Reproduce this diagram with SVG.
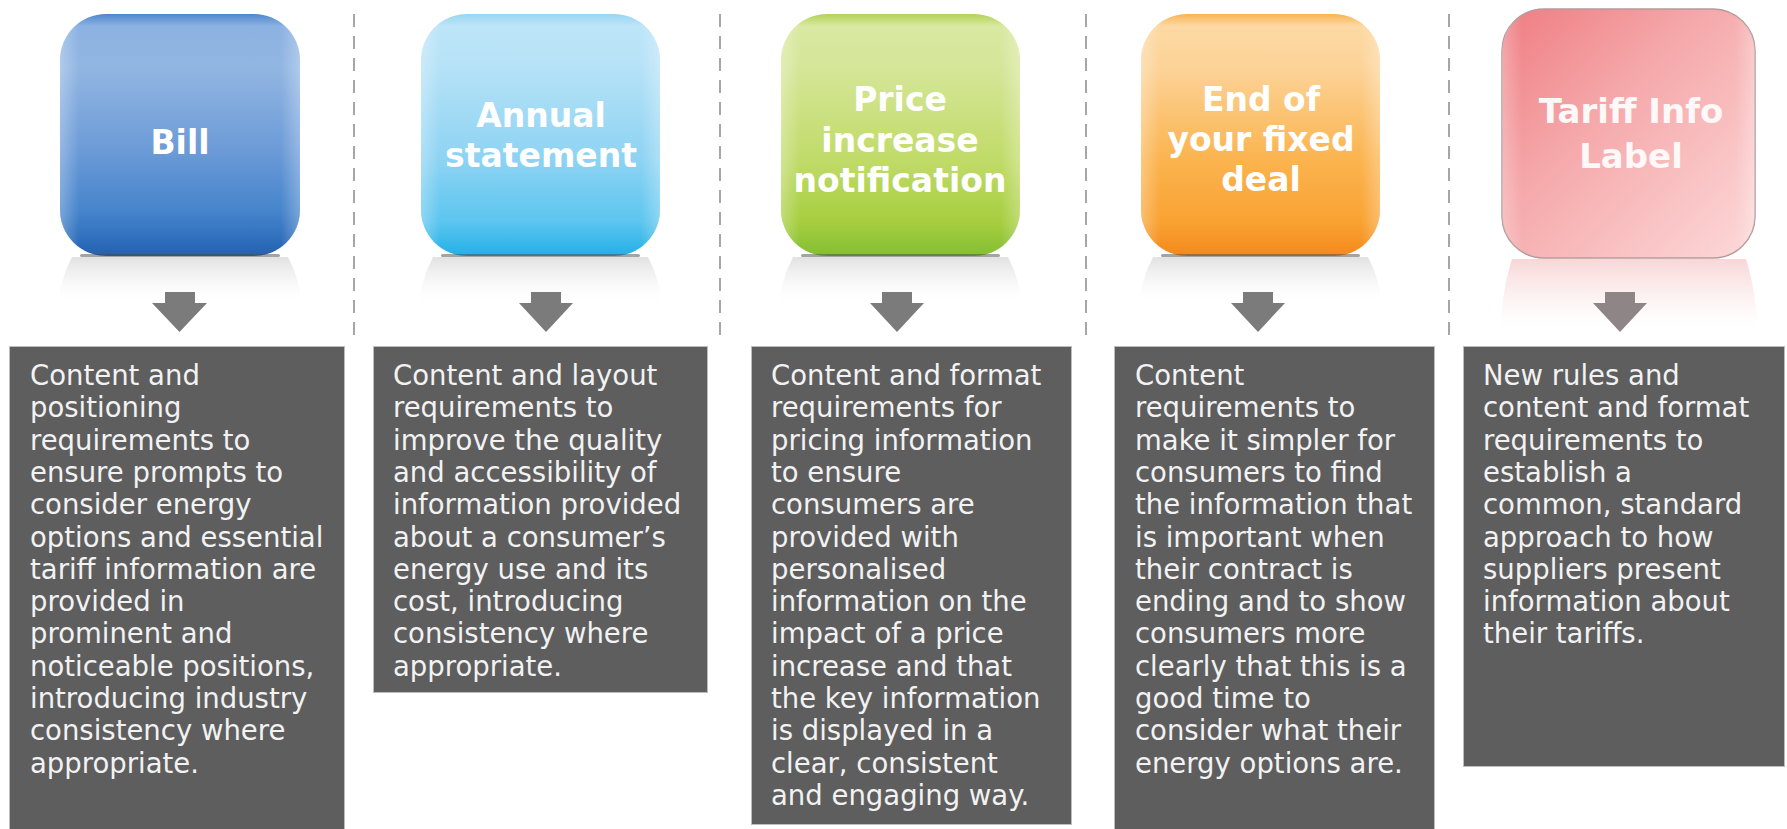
<svg xmlns="http://www.w3.org/2000/svg" width="1787" height="829" viewBox="0 0 1787 829">
<style>
.title{font-family:"DejaVu Sans","Liberation Sans",sans-serif;font-weight:700;font-size:33px;fill:#ffffff;text-anchor:middle}
.title5{font-family:"DejaVu Sans","Liberation Sans",sans-serif;font-weight:700;font-size:34px;fill:#fff8f8;text-anchor:middle}
.body{font-family:"DejaVu Sans","Liberation Sans",sans-serif;font-size:27.5px;fill:#f2f2f2}
.panel{fill:#5e5e5e;stroke:#bdbdbd;stroke-width:1}
.divider{stroke:#a6a6a6;stroke-width:2;stroke-dasharray:13 9;fill:none}
.arrow{fill:#7b7b7b}
.shade{fill:url(#sideGloss)}
.refl{fill:url(#reflGray)}
.shadowline{fill:#4a4a4a;opacity:0.5}
</style>
<defs>
<linearGradient id="gBlue" x1="0" y1="0" x2="0" y2="1">
<stop offset="0" stop-color="#4f86cf"/><stop offset="0.05" stop-color="#8cb2e2"/><stop offset="0.22" stop-color="#92b6e2"/><stop offset="0.55" stop-color="#6e9cd8"/><stop offset="0.82" stop-color="#4584cb"/><stop offset="0.96" stop-color="#2a69b8"/><stop offset="1" stop-color="#2a5ea6"/>
</linearGradient>
<linearGradient id="gCyan" x1="0" y1="0" x2="0" y2="1">
<stop offset="0" stop-color="#98d5f2"/><stop offset="0.05" stop-color="#bde5f8"/><stop offset="0.22" stop-color="#b6e2f7"/><stop offset="0.6" stop-color="#8dd3f3"/><stop offset="0.86" stop-color="#5cc5ef"/><stop offset="1" stop-color="#22b0e6"/>
</linearGradient>
<linearGradient id="gGreen" x1="0" y1="0" x2="0" y2="1">
<stop offset="0" stop-color="#b3d255"/><stop offset="0.05" stop-color="#d9e9a2"/><stop offset="0.22" stop-color="#d5e699"/><stop offset="0.6" stop-color="#c1db69"/><stop offset="0.86" stop-color="#a6ce3f"/><stop offset="1" stop-color="#84be34"/>
</linearGradient>
<linearGradient id="gOrange" x1="0" y1="0" x2="0" y2="1">
<stop offset="0" stop-color="#f7b452"/><stop offset="0.05" stop-color="#fdd9a3"/><stop offset="0.22" stop-color="#fcd398"/><stop offset="0.6" stop-color="#fbb44f"/><stop offset="0.86" stop-color="#f9a232"/><stop offset="1" stop-color="#f4891c"/>
</linearGradient>
<linearGradient id="gPink" x1="0" y1="0" x2="1" y2="1">
<stop offset="0" stop-color="#ef7c82"/><stop offset="0.4" stop-color="#f5a8aa"/><stop offset="1" stop-color="#fdd9d9"/>
</linearGradient>
<linearGradient id="sideGloss" x1="0" y1="0" x2="1" y2="0">
<stop offset="0" stop-color="#ffffff" stop-opacity="0.28"/><stop offset="0.08" stop-color="#ffffff" stop-opacity="0"/><stop offset="0.92" stop-color="#ffffff" stop-opacity="0"/><stop offset="1" stop-color="#ffffff" stop-opacity="0.28"/>
</linearGradient>
<linearGradient id="reflGray" x1="0" y1="0" x2="0" y2="1">
<stop offset="0" stop-color="#dcdcdc" stop-opacity="0.85"/><stop offset="0.5" stop-color="#eeeeee" stop-opacity="0.5"/><stop offset="1" stop-color="#ffffff" stop-opacity="0"/>
</linearGradient>
<linearGradient id="reflPink" x1="0" y1="0" x2="0" y2="1">
<stop offset="0" stop-color="#f6cccd" stop-opacity="0.8"/><stop offset="0.6" stop-color="#fcecec" stop-opacity="0.5"/><stop offset="1" stop-color="#ffffff" stop-opacity="0"/>
</linearGradient>
</defs>
<rect width="1787" height="829" fill="#ffffff"/>

<g id="dividers">
<line class="divider" x1="354" y1="14" x2="354" y2="343"/>
<line class="divider" x1="720" y1="14" x2="720" y2="343"/>
<line class="divider" x1="1086" y1="14" x2="1086" y2="343"/>
<line class="divider" x1="1449" y1="14" x2="1449" y2="343"/>
</g>

<g id="node-bill">
<path class="refl" d="M72 257 H288 Q300 280 302 305 H58 Q60 280 72 257 Z"/>
<rect x="60" y="14" width="240" height="242" rx="46" fill="url(#gBlue)"/>
<rect class="shade" x="60" y="14" width="240" height="242" rx="46"/>
<rect class="shadowline" x="80" y="254" width="200" height="3" rx="1.5"/>
<text class="title" x="180" y="154">Bill</text>
</g>

<g id="node-annual">
<path class="refl" d="M433 257 H648 Q660 280 662 305 H419 Q421 280 433 257 Z"/>
<rect x="421" y="14" width="239" height="242" rx="46" fill="url(#gCyan)"/>
<rect class="shade" x="421" y="14" width="239" height="242" rx="46"/>
<rect class="shadowline" x="441" y="254" width="199" height="3" rx="1.5"/>
<text class="title" x="541" y="127">Annual</text>
<text class="title" x="541" y="167">statement</text>
</g>

<g id="node-price">
<path class="refl" d="M793 257 H1008 Q1020 280 1022 305 H779 Q781 280 793 257 Z"/>
<rect x="781" y="14" width="239" height="242" rx="46" fill="url(#gGreen)"/>
<rect class="shade" x="781" y="14" width="239" height="242" rx="46"/>
<rect class="shadowline" x="801" y="254" width="199" height="3" rx="1.5"/>
<text class="title" x="900" y="111">Price</text>
<text class="title" x="900" y="152">increase</text>
<text class="title" x="900" y="192">notification</text>
</g>

<g id="node-end">
<path class="refl" d="M1153 257 H1368 Q1380 280 1382 305 H1139 Q1141 280 1153 257 Z"/>
<rect x="1141" y="14" width="239" height="242" rx="46" fill="url(#gOrange)"/>
<rect class="shade" x="1141" y="14" width="239" height="242" rx="46"/>
<rect class="shadowline" x="1161" y="254" width="199" height="3" rx="1.5"/>
<text class="title" x="1261" y="111">End of</text>
<text class="title" x="1261" y="151">your fixed</text>
<text class="title" x="1261" y="191">deal</text>
</g>

<g id="node-tariff">
<path d="M1512 259 H1746 Q1756 290 1758 335 H1500 Q1502 290 1512 259 Z" fill="url(#reflPink)"/>
<rect x="1502" y="9" width="253" height="249" rx="42" fill="url(#gPink)" stroke="#b59a9a" stroke-width="1.5"/>
<rect class="shade" x="1502" y="9" width="253" height="249" rx="42"/>
<text class="title5" x="1631" y="123">Tariff Info</text>
<text class="title5" x="1631" y="168">Label</text>
</g>

<g id="connectors">
<path class="arrow" d="M165 292 H195 V303 H207 L179.5 332 L152 303 H165 Z"/>
<path class="arrow" d="M531 292 H561 V303 H573 L546 332 L519 303 H531 Z"/>
<path class="arrow" d="M882 292 H912 V303 H924 L897 332 L870 303 H882 Z"/>
<path class="arrow" d="M1243 292 H1273 V303 H1285 L1258 332 L1231 303 H1243 Z"/>
<path d="M1605 292 H1635 V303 H1647 L1620 332 L1593 303 H1605 Z" fill="#8e8686"/>
</g>

<g id="panel-bill">
<rect class="panel" x="9.5" y="346.5" width="335" height="490"/>
<text class="body" x="30" y="385">
<tspan x="30" dy="0">Content and</tspan>
<tspan x="30" dy="32.3">positioning</tspan>
<tspan x="30" dy="32.3">requirements to</tspan>
<tspan x="30" dy="32.3">ensure prompts to</tspan>
<tspan x="30" dy="32.3">consider energy</tspan>
<tspan x="30" dy="32.3">options and essential</tspan>
<tspan x="30" dy="32.3">tariff information are</tspan>
<tspan x="30" dy="32.3">provided in</tspan>
<tspan x="30" dy="32.3">prominent and</tspan>
<tspan x="30" dy="32.3">noticeable positions,</tspan>
<tspan x="30" dy="32.3">introducing industry</tspan>
<tspan x="30" dy="32.3">consistency where</tspan>
<tspan x="30" dy="32.3">appropriate.</tspan>
</text>
</g>

<g id="panel-annual">
<rect class="panel" x="373.5" y="346.5" width="334" height="346"/>
<text class="body" x="393" y="385">
<tspan x="393" dy="0">Content and layout</tspan>
<tspan x="393" dy="32.3">requirements to</tspan>
<tspan x="393" dy="32.3">improve the quality</tspan>
<tspan x="393" dy="32.3">and accessibility of</tspan>
<tspan x="393" dy="32.3">information provided</tspan>
<tspan x="393" dy="32.3">about a consumer’s</tspan>
<tspan x="393" dy="32.3">energy use and its</tspan>
<tspan x="393" dy="32.3">cost, introducing</tspan>
<tspan x="393" dy="32.3">consistency where</tspan>
<tspan x="393" dy="32.3">appropriate.</tspan>
</text>
</g>

<g id="panel-price">
<rect class="panel" x="751.5" y="346.5" width="320" height="478"/>
<text class="body" x="771" y="385">
<tspan x="771" dy="0">Content and format</tspan>
<tspan x="771" dy="32.3">requirements for</tspan>
<tspan x="771" dy="32.3">pricing information</tspan>
<tspan x="771" dy="32.3">to ensure</tspan>
<tspan x="771" dy="32.3">consumers are</tspan>
<tspan x="771" dy="32.3">provided with</tspan>
<tspan x="771" dy="32.3">personalised</tspan>
<tspan x="771" dy="32.3">information on the</tspan>
<tspan x="771" dy="32.3">impact of a price</tspan>
<tspan x="771" dy="32.3">increase and that</tspan>
<tspan x="771" dy="32.3">the key information</tspan>
<tspan x="771" dy="32.3">is displayed in a</tspan>
<tspan x="771" dy="32.3">clear, consistent</tspan>
<tspan x="771" dy="32.3">and engaging way.</tspan>
</text>
</g>

<g id="panel-end">
<rect class="panel" x="1114.5" y="346.5" width="320" height="490"/>
<text class="body" x="1135" y="385">
<tspan x="1135" dy="0">Content</tspan>
<tspan x="1135" dy="32.3">requirements to</tspan>
<tspan x="1135" dy="32.3">make it simpler for</tspan>
<tspan x="1135" dy="32.3">consumers to find</tspan>
<tspan x="1135" dy="32.3">the information that</tspan>
<tspan x="1135" dy="32.3">is important when</tspan>
<tspan x="1135" dy="32.3">their contract is</tspan>
<tspan x="1135" dy="32.3">ending and to show</tspan>
<tspan x="1135" dy="32.3">consumers more</tspan>
<tspan x="1135" dy="32.3">clearly that this is a</tspan>
<tspan x="1135" dy="32.3">good time to</tspan>
<tspan x="1135" dy="32.3">consider what their</tspan>
<tspan x="1135" dy="32.3">energy options are.</tspan>
</text>
</g>

<g id="panel-tariff">
<rect class="panel" x="1463.5" y="346.5" width="321" height="420"/>
<text class="body" x="1483" y="385">
<tspan x="1483" dy="0">New rules and</tspan>
<tspan x="1483" dy="32.3">content and format</tspan>
<tspan x="1483" dy="32.3">requirements to</tspan>
<tspan x="1483" dy="32.3">establish a</tspan>
<tspan x="1483" dy="32.3">common, standard</tspan>
<tspan x="1483" dy="32.3">approach to how</tspan>
<tspan x="1483" dy="32.3">suppliers present</tspan>
<tspan x="1483" dy="32.3">information about</tspan>
<tspan x="1483" dy="32.3">their tariffs.</tspan>
</text>
</g>
</svg>
